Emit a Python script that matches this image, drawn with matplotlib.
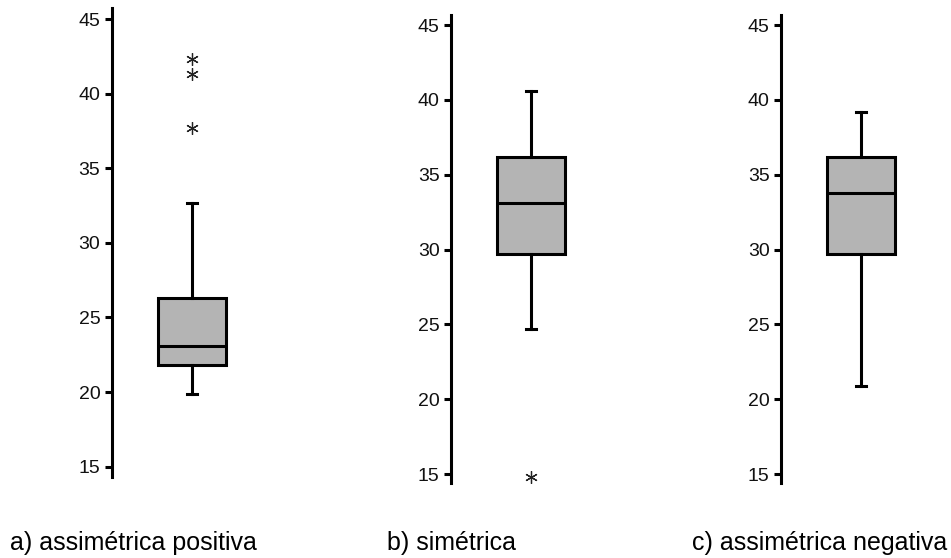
import matplotlib
matplotlib.use("Agg")
import matplotlib.pyplot as plt

plt.rcParams["font.family"] = ["Liberation Sans", "DejaVu Sans"]

# values (one box per panel)
labels = ["a) assimétrica positiva", "b) simétrica", "c) assimétrica negativa"]
medians = [23.1, 33.1, 33.8]
q1s = [21.8, 29.7, 29.7]
q3s = [26.3, 36.2, 36.2]
whis_lo = [19.9, 24.7, 20.9]
whis_hi = [32.7, 40.6, 39.2]
fliers = [[37.7, 41.3, 42.3], [14.8], []]
yticks = [15, 20, 25, 30, 35, 40, 45]

W, H = 951, 558
fig = plt.figure(figsize=(W / 100, H / 100), dpi=100)

# panel frames in pixels: spine x, spine top, spine bottom, ylim
frames = [
    (111.5, 8.3, 476.7, (14.33, 45.72)),
    (450.7, 15.0, 483.3, (14.38, 45.67)),
    (780.7, 15.0, 483.3, (14.38, 45.67)),
]
label_x = [10, 387, 692]

for i, (sx, top, bot, ylim) in enumerate(frames):
    ax = fig.add_axes([sx / W, (H - bot) / H, 160 / W, (bot - top) / H])
    stats = [dict(med=medians[i], q1=q1s[i], q3=q3s[i],
                  whislo=whis_lo[i], whishi=whis_hi[i], fliers=fliers[i])]
    ax.bxp(stats, positions=[80], widths=68, capwidths=10, patch_artist=True,
           boxprops=dict(facecolor="#b4b4b4", edgecolor="black", linewidth=2.2),
           medianprops=dict(color="black", linewidth=2.2),
           whiskerprops=dict(color="black", linewidth=2.2),
           capprops=dict(color="black", linewidth=2.2),
           flierprops=dict(marker=(6, 2, 0), markersize=9, markeredgecolor="#222222",
                           markerfacecolor="black", markeredgewidth=0.9))
    ax.set_xlim(0, 160)
    ax.set_ylim(*ylim)
    ax.set_yticks(yticks)
    ax.set_xticks([])
    for s in ("top", "right", "bottom"):
        ax.spines[s].set_visible(False)
    ax.spines["left"].set_linewidth(2.2)
    ax.tick_params(axis="y", length=5, width=2.2, pad=3, labelsize=14,
                   labelcolor="#111111")
    ax.patch.set_alpha(0)
    fig.text(label_x[i] / W, 1 - 543 / H, labels[i], fontsize=18, va="center", ha="left")

fig.savefig("out.png", dpi=100)
